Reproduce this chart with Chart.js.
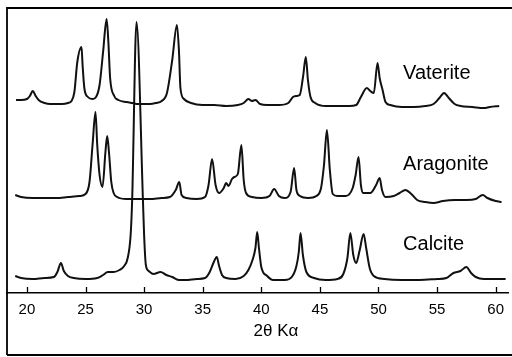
<!DOCTYPE html>
<html>
<head>
<meta charset="utf-8">
<script src="https://cdn.jsdelivr.net/npm/chart.js@4"></script>
<style>
html,body{margin:0;padding:0;background:#fff;}
#wrap{width:512px;height:357px;}
</style>
</head>
<body>
<div id="wrap"><canvas id="c" width="512" height="357"></canvas></div>
<script>
// 2θ positions (degrees) and offset intensities (a.u.)
const tickValues = [20, 25, 30, 35, 40, 45, 50, 55, 60];
const seriesNames = ["Vaterite", "Aragonite", "Calcite"];
const axisTitle = "2θ Kα";

const vaterite = [
[19.07,200],[19.5,200],[20.0,201],[20.25,204],[20.5,209],[20.75,204],[21.0,200],[21.5,197],[22.0,196],[22.5,196],
[23.0,196],[23.5,197],[23.8,199],[24.05,208],[24.3,238],[24.66,253],[24.75,235],[24.9,212],[25.2,203],[25.6,201],
[25.9,203],[26.2,215],[26.5,248],[26.8,281],[26.95,258],[27.1,222],[27.45,204],[27.8,200],[28.5,198],[29.0,197],
[29.5,196],[30.0,196],[30.5,196],[31.0,197],[31.5,199],[31.95,207],[32.4,240],[32.8,275],[32.97,250],[33.1,212],
[33.4,201],[34.0,197],[35.0,195],[36.0,195],[37.0,194],[38.0,195],[38.5,197],[38.9,201],[39.2,199],
[39.5,200],[39.9,196],[40.5,195],[41.5,195],[42.3,197],[42.7,203],[43.0,204],[43.28,205],[43.56,223],[43.8,243],
[43.98,220],[44.2,203],[44.6,197],[45.5,194],[46.5,194],[47.5,194],[48.1,195],[48.5,203],[49.0,212],[49.3,209],
[49.6,207],[49.92,237],[50.1,222],[50.35,210],[50.6,198],[51.0,195],[52.0,193],[53.0,193],[54.0,194],[54.7,196],
[55.2,202],[55.6,207],[56.0,202],[56.5,196],[57.0,194],[58.0,193],[59.0,192],[59.5,193],[60.3,194]
];

const aragonite = [
[19.0,105],[19.5,103],[20.5,102],[21.5,102],[22.5,102],[23.5,103],[24.5,104],[25.0,106],[25.34,118],[25.6,155],
[25.85,188],[26.0,155],[26.2,125],[26.45,113],[26.7,148],[26.85,164],[27.0,148],[27.2,118],[27.4,107],[27.7,103],
[28.5,101],[29.5,101],[30.5,101],[31.5,102],[32.2,103],[32.7,110],[33.0,118],[33.2,105],[33.6,102],[34.5,101],
[35.2,103],[35.5,115],[35.8,141],[36.1,115],[36.4,107],[36.8,112],[37.0,117],[37.2,114],[37.5,121],[37.7,123],
[38.0,126],[38.3,155],[38.5,120],[38.7,107],[39.2,103],[40.0,102],[40.7,104],[41.1,111],[41.5,104],[42.0,102],
[42.5,108],[42.8,132],[43.0,110],[43.3,104],[44.0,102],[44.7,104],[45.1,112],[45.35,135],[45.6,170],[45.85,130],
[46.1,106],[46.5,104],[47.2,104],[47.8,112],[48.05,125],[48.3,143],[48.5,115],[48.7,107],[49.3,107],[49.8,115],
[50.1,122],[50.3,110],[50.6,103],[51.3,104],[51.8,107],[52.3,110],[52.8,106],[53.3,100],[54.0,98],[54.7,97],
[55.5,99],[56.5,100],[57.5,100],[58.3,101],[58.9,105],[59.3,102],[60.0,99],[60.5,98]
];

const calcite = [
[19.0,24],[19.5,22],[20.5,21],[21.5,22],[22.3,23],[22.6,28],[22.9,37],[23.15,29],[23.5,24],[24.0,22],
[25.0,21],[26.0,22],[26.5,25],[26.9,28],[27.4,28],[27.9,30],[28.3,34],[28.6,42],[28.85,65],[28.98,100],
[29.35,278],[29.9,100],[30.0,65],[30.15,35],[30.4,29],[30.8,26],[31.4,28],[31.9,25],[32.4,23],[33.0,20],
[33.5,20],[34.5,21],[35.2,22],[35.6,28],[35.95,38],[36.2,43],[36.4,34],[36.65,25],[37.0,22],[37.8,21],
[38.5,24],[38.9,30],[39.25,40],[39.5,52],[39.65,68],[39.8,52],[40.0,33],[40.5,24],[41.0,20],[42.0,20],
[42.6,23],[43.0,34],[43.2,48],[43.35,67],[43.55,45],[43.85,28],[44.5,22],[45.5,20],[46.5,21],[47.0,26],
[47.35,42],[47.6,67],[47.85,45],[48.1,37],[48.4,50],[48.73,66],[48.95,52],[49.25,32],[49.6,24],[50.5,21],
[52.0,20],[53.5,20],[55.0,21],[55.8,22],[56.4,27],[57.0,29],[57.5,33],[57.9,27],[58.3,23],[59.0,21],
[60.0,21],[60.85,21]
];

const toPts = arr => arr.map(p => ({x: p[0], y: p[1]}));

const lineStyle = {
  borderColor: '#111', borderWidth: 2, pointRadius: 0, fill: false,
  cubicInterpolationMode: 'monotone', borderJoinStyle: 'round'
};

const decor = {
  id: 'decor',
  afterDraw(chart) {
    const ctx = chart.ctx;
    const xs = chart.scales.x, ys = chart.scales.y;
    const a = chart.chartArea;
    ctx.save();
    ctx.strokeStyle = '#000';
    // frame
    ctx.lineWidth = 1.8;
    ctx.beginPath();
    ctx.moveTo(a.left, 355); ctx.lineTo(a.left, a.top); ctx.lineTo(512, a.top);
    ctx.moveTo(a.left, 355); ctx.lineTo(512, 355);
    ctx.stroke();
    // inward ticks
    ctx.lineWidth = 1.3;
    ctx.beginPath();
    tickValues.forEach(v => {
      const px = Math.round(xs.getPixelForValue(v)) + 0.5;
      ctx.moveTo(px, a.bottom); ctx.lineTo(px, a.bottom - 6);
    });
    ctx.stroke();
    // series labels
    ctx.fillStyle = '#000';
    ctx.font = '20px "Liberation Sans", Arial, sans-serif';
    ctx.textAlign = 'left';
    ctx.textBaseline = 'alphabetic';
    const lx = xs.getPixelForValue(52.1);
    ctx.fillText(seriesNames[0], lx, ys.getPixelForValue(221));
    ctx.fillText(seriesNames[1], lx, ys.getPixelForValue(130));
    ctx.fillText(seriesNames[2], lx, ys.getPixelForValue(50));
    // axis title
    ctx.font = '17px "Liberation Sans", Arial, sans-serif';
    ctx.textAlign = 'center';
    ctx.fillText(axisTitle, 276, 336);
    ctx.restore();
  }
};

new Chart(document.getElementById('c'), {
  type: 'line',
  data: {
    datasets: [
      Object.assign({label: seriesNames[0], data: toPts(vaterite)}, lineStyle),
      Object.assign({label: seriesNames[1], data: toPts(aragonite)}, lineStyle),
      Object.assign({label: seriesNames[2], data: toPts(calcite)}, lineStyle)
    ]
  },
  options: {
    responsive: false,
    animation: false,
    events: [],
    layout: {padding: {left: 7, top: 8, right: 0, bottom: 0}},
    plugins: {legend: {display: false}, tooltip: {enabled: false}},
    scales: {
      x: {
        type: 'linear',
        min: 18.3, max: 61.1,
        afterBuildTicks: s => { s.ticks = tickValues.map(v => ({value: v})); },
        afterFit: s => { s.height = 64; },
        grid: {display: true, drawOnChartArea: false, drawTicks: false},
        border: {display: true, color: '#000', width: 1.5},
        ticks: {
          color: '#000', padding: 8, maxRotation: 0, autoSkip: false,
          font: {family: '"Liberation Sans", Arial, sans-serif', size: 15}
        }
      },
      y: {
        type: 'linear', display: false, min: 7, max: 292
      }
    }
  },
  plugins: [decor]
});
</script>
</body>
</html>
